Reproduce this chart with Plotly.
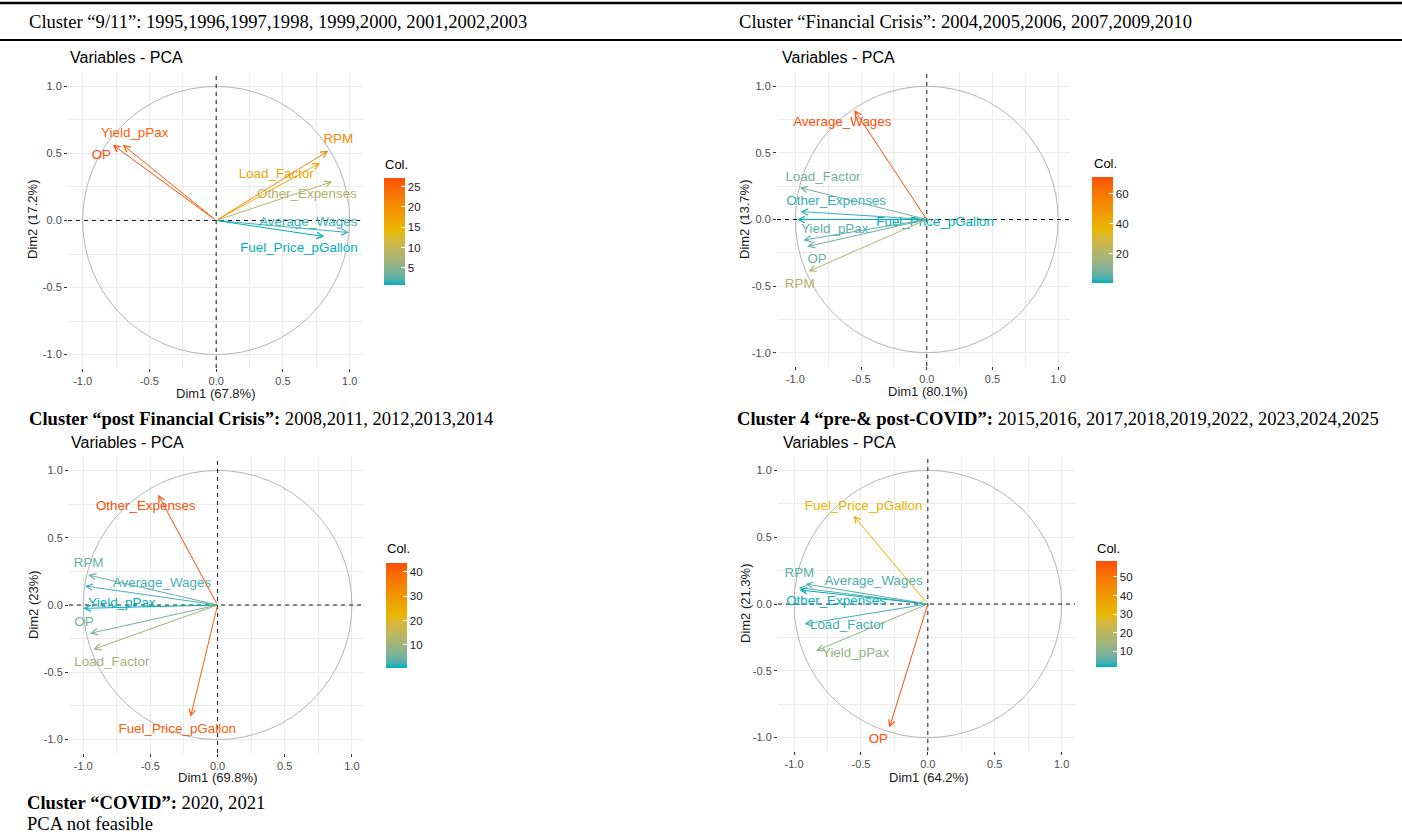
import plotly.graph_objects as go

W, H = 1402, 836

# ---------------- data ----------------
VARS = ["OP", "Yield_pPax", "RPM", "Load_Factor", "Other_Expenses",
        "Average_Wages", "Fuel_Price_pGallon"]

# Cluster "9/11"
p1_dim1 = [-0.775, -0.70, 0.84, 0.78, 0.87, 0.995, 0.81]
p1_dim2 = [0.565, 0.565, 0.52, 0.43, 0.29, -0.09, -0.12]
p1_col = [27.1, 25.5, 21.0, 16.5, 8.2, 1.5, 0.8]

# Cluster "Financial Crisis"
p2_dim1 = [-0.91, -0.94, -0.90, -0.967, -0.962, -0.552, -0.987]
p2_dim2 = [-0.203, -0.155, -0.39, 0.24, 0.06, 0.822, 0.0]
p2_col = [7.0, 5.0, 20.0, 8.0, 2.0, 71.0, 0.5]

# Cluster "post Financial Crisis"
p3_dim1 = [-0.95, -1.0, -0.963, -0.925, -0.442, -0.988, -0.201]
p3_dim2 = [-0.211, -0.025, 0.223, -0.33, 0.819, 0.141, -0.831]
p3_col = [5.0, 0.5, 4.0, 10.0, 43.7, 2.5, 41.0]

# Cluster 4 "pre-& post-COVID"
p4_dim1 = [-0.287, -0.835, -0.965, -0.923, -0.96, -0.915, -0.556]
p4_dim2 = [-0.925, -0.35, 0.122, -0.15, 0.105, 0.15, 0.66]
p4_col = [58.6, 12.0, 5.0, 3.5, 1.6, 4.5, 32.0]

dim1_labels = ["Dim1 (67.8%)", "Dim1 (80.1%)", "Dim1 (69.8%)", "Dim1 (64.2%)"]
dim2_labels = ["Dim2 (17.2%)", "Dim2 (13.7%)", "Dim2 (23%)", "Dim2 (21.3%)"]
tick_vals = [-1.0, -0.5, 0.0, 0.5, 1.0]
tick_text = ["-1.0", "-0.5", "0.0", "0.5", "1.0"]
cb_dticks = [5, 20, 10, 10]

# ---------------- layout helpers (label placement, panel geometry) ----------------
LABEL_POS = [
    [(-0.86, 0.48), (-0.61, 0.647), (0.915, 0.60), (0.45, 0.343), (0.68, 0.19), (0.69, -0.017), (0.62, -0.21)],
    [(-0.835, -0.298), (-0.70, -0.08), (-0.967, -0.49), (-0.79, 0.316), (-0.69, 0.133), (-0.643, 0.729), (0.063, -0.023)],
    [(-0.995, -0.131), (-0.712, 0.012), (-0.96, 0.31), (-0.787, -0.427), (-0.534, 0.732), (-0.414, 0.161), (-0.30, -0.926)],
    [(-0.37, -1.015), (-0.54, -0.37), (-0.96, 0.23), (-0.60, -0.165), (-0.686, 0.018), (-0.406, 0.168), (-0.48, 0.73)],
]
PANELS = [
    dict(xpx=(68, 363), ypx=(73, 368), xr=(-1.11, 1.10), title=(68, 58), xt=(216, 393), yt=(33, 220),
         cb=(384, 178, 285), col=(383, 164)),
    dict(xpx=(777, 1070), ypx=(73, 366), xr=(-1.14, 1.09), title=(780, 58), xt=(927, 391), yt=(745, 220),
         cb=(1092, 177, 283), col=(1092, 163)),
    dict(xpx=(69, 364), ypx=(457, 753), xr=(-1.106, 1.09), title=(69, 442), xt=(218, 777), yt=(33, 605),
         cb=(386, 563, 668), col=(385, 548)),
    dict(xpx=(778, 1075), ypx=(457, 751), xr=(-1.12, 1.10), title=(781, 442), xt=(928, 777), yt=(745, 604),
         cb=(1096, 561, 667), col=(1095, 548)),
]
YR = (-1.1, 1.1)

# ---------------- Lab gradient (like ggplot scale_color_gradientn) ----------------
GRAD = ["#00AFBB", "#E7B800", "#FC4E07"]


def _lin(c):
    return c / 12.92 if c <= 0.04045 else ((c + 0.055) / 1.055) ** 2.4


def _delin(c):
    return 12.92 * c if c <= 0.0031308 else 1.055 * c ** (1 / 2.4) - 0.055


def hex_to_lab(h):
    r, g, b = [_lin(int(h[i:i + 2], 16) / 255) for i in (1, 3, 5)]
    X = 0.4124 * r + 0.3576 * g + 0.1805 * b
    Y = 0.2126 * r + 0.7152 * g + 0.0722 * b
    Z = 0.0193 * r + 0.1192 * g + 0.9505 * b

    def f(t):
        return t ** (1 / 3) if t > 0.008856 else 7.787 * t + 16 / 116
    fx, fy, fz = f(X / 0.95047), f(Y), f(Z / 1.08883)
    return (116 * fy - 16, 500 * (fx - fy), 200 * (fy - fz))


def lab_to_hex(lab):
    L, a, b = lab
    fy = (L + 16) / 116
    fx = fy + a / 500
    fz = fy - b / 200

    def finv(t):
        return t ** 3 if t ** 3 > 0.008856 else (t - 16 / 116) / 7.787
    X, Y, Z = 0.95047 * finv(fx), finv(fy), 1.08883 * finv(fz)
    r = 3.2406 * X - 1.5372 * Y - 0.4986 * Z
    g = -0.9689 * X + 1.8758 * Y + 0.0415 * Z
    bb = 0.0557 * X - 0.2040 * Y + 1.0570 * Z
    vals = [int(round(255 * min(1, max(0, _delin(max(0, c)))))) for c in (r, g, bb)]
    return "#%02X%02X%02X" % tuple(vals)


LABS = [hex_to_lab(c) for c in GRAD]


def grad_color(t):
    t = min(1, max(0, t))
    if t <= 0.5:
        a, b, s = LABS[0], LABS[1], t / 0.5
    else:
        a, b, s = LABS[1], LABS[2], (t - 0.5) / 0.5
    return lab_to_hex(tuple(a[i] + (b[i] - a[i]) * s for i in range(3)))


COLORSCALE = [[i / 20, grad_color(i / 20)] for i in range(21)]

# ---------------- figure ----------------
fig = go.Figure()
shapes, annos = [], []
FONT = "Liberation Sans, Arial, sans-serif"
SERIF = "Liberation Serif, Times New Roman, serif"

data = [(p1_dim1, p1_dim2, p1_col), (p2_dim1, p2_dim2, p2_col),
        (p3_dim1, p3_dim2, p3_col), (p4_dim1, p4_dim2, p4_col)]

for k, (P, (d1, d2, col)) in enumerate(zip(PANELS, data)):
    sfx = "" if k == 0 else str(k + 1)
    xa, ya = "x" + sfx, "y" + sfx
    cmin, cmax = min(col), max(col)
    colors = [grad_color((v - cmin) / (cmax - cmin)) for v in col]

    axis_common = dict(
        tickmode="array", tickvals=tick_vals, ticktext=tick_text,
        ticks="outside", ticklen=3, tickwidth=1, tickcolor="#333333",
        tickfont=dict(family=FONT, size=11, color="#4D4D4D"),
        showgrid=True, gridcolor="#EBEBEB", gridwidth=1.1,
        minor=dict(tickmode="array", tickvals=[-0.75, -0.25, 0.25, 0.75],
                   showgrid=True, gridcolor="#EBEBEB", gridwidth=0.6),
        zeroline=False, showline=False, fixedrange=True,
    )
    fig.update_layout(**{
        "xaxis" + sfx: dict(axis_common, domain=[P["xpx"][0] / W, P["xpx"][1] / W],
                            range=list(P["xr"]), anchor=ya),
        "yaxis" + sfx: dict(axis_common, domain=[1 - P["ypx"][1] / H, 1 - P["ypx"][0] / H],
                            range=list(YR), anchor=xa),
    })

    # circle and dashed reference lines
    shapes.append(dict(type="circle", xref=xa, yref=ya, x0=-1, y0=-1, x1=1, y1=1,
                       line=dict(color="#ABABAB", width=0.9), layer="between"))
    shapes.append(dict(type="line", xref=xa, yref=ya, x0=0, x1=0, y0=YR[0], y1=YR[1],
                       line=dict(color="#1A1A1A", width=1, dash="4px,4px"), layer="between"))
    shapes.append(dict(type="line", xref=xa, yref=ya, x0=P["xr"][0], x1=P["xr"][1], y0=0, y1=0,
                       line=dict(color="#1A1A1A", width=1, dash="4px,4px"), layer="between"))

    # arrows
    for x, y, c in zip(d1, d2, colors):
        annos.append(dict(xref=xa, yref=ya, axref=xa, ayref=ya, x=x, y=y, ax=0, ay=0,
                          text="", showarrow=True, arrowhead=5, arrowsize=1.25,
                          arrowwidth=1, arrowcolor=c, standoff=0))

    # labels
    lx = [p[0] for p in LABEL_POS[k]]
    ly = [p[1] for p in LABEL_POS[k]]
    fig.add_trace(go.Scatter(
        x=lx, y=ly, xaxis=xa, yaxis=ya, mode="text", text=VARS,
        textposition="middle center", cliponaxis=False, hoverinfo="skip",
        textfont=dict(family=FONT, size=13.4, color=colors), showlegend=False))

    # colorbar carrier
    cbx, cby0, cby1 = P["cb"]
    fig.add_trace(go.Scatter(
        x=d1, y=d2, xaxis=xa, yaxis=ya, mode="markers", hoverinfo="skip", showlegend=False,
        marker=dict(size=1, opacity=0, color=col, colorscale=COLORSCALE, cmin=cmin, cmax=cmax,
                    showscale=True,
                    colorbar=dict(x=cbx / W, xanchor="left", y=1 - (cby0 + cby1) / 2 / H, yanchor="middle",
                                  len=cby1 - cby0, lenmode="pixels", thickness=21, thicknessmode="pixels",
                                  outlinewidth=0, xpad=0, ypad=0, ticks="inside", ticklen=4,
                                  tickcolor="white", tickwidth=1, tick0=0, dtick=cb_dticks[k],
                                  tickfont=dict(family=FONT, size=11.5, color="#222222")))))

    # texts: title, axis titles, legend title
    annos.append(dict(xref="paper", yref="paper", x=P["title"][0] / W, y=1 - P["title"][1] / H,
                      xanchor="left", yanchor="middle", showarrow=False, text="Variables - PCA",
                      font=dict(family=FONT, size=16, color="#000000")))
    annos.append(dict(xref="paper", yref="paper", x=P["xt"][0] / W, y=1 - P["xt"][1] / H,
                      xanchor="center", yanchor="middle", showarrow=False, text=dim1_labels[k],
                      font=dict(family=FONT, size=13, color="#1A1A1A")))
    annos.append(dict(xref="paper", yref="paper", x=P["yt"][0] / W, y=1 - P["yt"][1] / H,
                      xanchor="center", yanchor="middle", showarrow=False, text=dim2_labels[k],
                      textangle=-90, font=dict(family=FONT, size=13, color="#1A1A1A")))
    annos.append(dict(xref="paper", yref="paper", x=P["col"][0] / W, y=1 - P["col"][1] / H,
                      xanchor="left", yanchor="middle", showarrow=False, text="Col.",
                      font=dict(family=FONT, size=13, color="#000000")))

# header rules
for yy, wd in [(3, 2.5), (40, 2)]:
    shapes.append(dict(type="line", xref="paper", yref="paper", x0=0, x1=1,
                       y0=1 - yy / H, y1=1 - yy / H, line=dict(color="#000000", width=wd)))

HEADERS = [
    (27, 21, "Cluster “9/11”: 1995,1996,1997,1998, 1999,2000, 2001,2002,2003"),
    (737, 21, "Cluster “Financial Crisis”: 2004,2005,2006, 2007,2009,2010"),
    (27, 418, "<b>Cluster “post Financial Crisis”:</b> 2008,2011, 2012,2013,2014"),
    (735, 418, "<b>Cluster 4 “pre-& post-COVID”:</b> 2015,2016, 2017,2018,2019,2022, 2023,2024,2025"),
    (25, 802, "<b>Cluster “COVID”:</b> 2020, 2021"),
    (25, 823, "PCA not feasible"),
]
for hx, hy, txt in HEADERS:
    annos.append(dict(xref="paper", yref="paper", x=hx / W, y=1 - hy / H, xanchor="left",
                      yanchor="middle", showarrow=False, text=txt,
                      font=dict(family=SERIF, size=18.6, color="#000000")))

fig.update_layout(width=W, height=H, margin=dict(l=0, r=0, t=0, b=0),
                  paper_bgcolor="white", plot_bgcolor="white",
                  shapes=shapes, annotations=annos, showlegend=False)

fig.write_html("out.html")
